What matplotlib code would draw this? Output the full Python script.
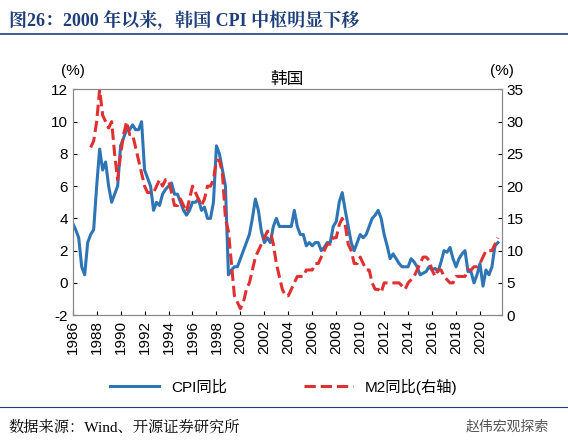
import numpy as np
import matplotlib
matplotlib.use("Agg")
import matplotlib.pyplot as plt
from matplotlib.lines import Line2D

plt.rcParams['font.family'] = ['Liberation Sans', 'Noto Sans CJK SC', 'DejaVu Sans']
plt.rcParams['axes.unicode_minus'] = False
SERIF = ['Liberation Serif', 'Noto Serif CJK SC', 'Noto Sans CJK SC']

# 韩国 CPI 同比 (%), 季度, 1986Q1 起
cpi = [3.7, 3.3, 2.8, 1.0, 0.5, 2.5, 3.0, 3.3, 6.0, 8.3, 7.0, 7.5,
       6.0, 5.0, 5.5, 6.0, 8.5, 9.0, 9.5, 9.5, 9.8, 9.5, 9.5, 10.0,
       7.0, 6.5, 6.0, 4.5, 5.0, 4.8, 5.5, 5.8, 6.0, 6.2, 5.5, 5.5,
       5.0, 4.5, 4.2, 4.5, 5.0, 5.0, 5.2, 4.5, 4.7, 4.0, 4.0, 5.0,
       8.5, 8.0, 7.0, 6.0, 0.5, 0.8, 1.0, 1.0, 1.5, 2.0, 2.5, 3.0,
       4.0, 5.2, 4.5, 3.2, 2.5, 2.8, 2.5, 3.5, 4.0, 3.5, 3.5, 3.5,
       3.5, 3.5, 4.5, 3.5, 3.0, 3.0, 2.3, 2.5, 2.3, 2.5, 2.5, 2.0,
       2.2, 2.5, 2.5, 3.5, 3.8, 5.0, 5.6, 4.5, 3.5, 2.5, 2.0, 2.5,
       3.0, 2.8, 3.0, 3.5, 4.0, 4.2, 4.5, 4.0, 3.0, 2.3, 1.5, 1.8,
       1.5, 1.2, 1.0, 1.0, 1.0, 1.5, 1.3, 1.0, 0.5, 0.6, 0.7, 1.0,
       0.8, 0.9, 0.7, 1.3, 2.0, 1.9, 2.2, 1.5, 1.0, 1.5, 1.8, 2.0,
       0.7, 0.7, 0.0, 0.5, 1.2, -0.2, 0.8, 0.5, 1.0, 2.3, 2.5]
cpi_t = 1986 + np.arange(len(cpi)) * 0.25

# 韩国 M2 同比 (%), 季度, 1987Q3 起
m2 = [26, 27, 30, 35, 31, 30, 29, 30, 25, 21, 25, 28, 30, 28,
      28, 26, 24, 22, 20, 19, 19, 19, 20, 21, 20, 21, 21, 19, 17, 17,
      18, 17, 16, 18, 20, 19, 18, 17, 18, 20, 20, 21, 24, 24, 22, 15,
      13, 8, 3, 2, 1, 2, 4, 5, 7, 9, 10, 11, 12, 13, 13, 11,
      8, 6, 4, 3, 3, 4, 5, 6, 6, 6, 7, 7, 7, 8, 8, 9,
      10, 11, 11, 12, 12, 14, 15, 14, 11, 10, 8, 8, 9, 8, 7, 7,
      5, 4, 4, 3.5, 5, 5, 5, 5, 5, 5, 4.5, 4, 5, 5.5, 6, 7,
      8, 9, 9, 8.5, 7, 6, 7, 7, 6, 5.5, 5, 5, 6, 6, 6, 6,
      7, 7, 7.5, 7.5, 8, 9, 10, 10, 10, 11, 12]
m2_t = 1987.5 + np.arange(len(m2)) * 0.25

years = list(range(1986, 2021, 2))

fig = plt.figure(figsize=(5.68, 4.47), dpi=100)
fig.text(0.015, 0.955, "图26：2000 年以来，韩国 CPI 中枢明显下移", fontsize=13,
         fontweight="bold", color="#1f3f7a", va="center", family=SERIF)
fig.add_artist(Line2D([0.0, 1.0], [0.925, 0.925], color="#1f3f7a", lw=1.2))

ax = fig.add_axes([0.128, 0.295, 0.755, 0.505])
ax2 = ax.twinx()
ax.plot(cpi_t, cpi, color="#2e75b6", lw=2.2, label="CPI同比")
ax2.plot(m2_t, m2, color="#e03030", lw=2.2, ls="--", label="M2同比(右轴)")
ax.set_xlim(1986, 2021.8)
ax.set_ylim(-2, 12)
ax.set_yticks(range(-2, 13, 2))
ax2.set_ylim(0, 35)
ax2.set_yticks(range(0, 36, 5))
ax.set_xticks(years)
ax.set_xticklabels([str(y) for y in years], rotation=90)
for a in (ax, ax2):
    a.tick_params(labelsize=11, direction="in", length=3)
    for s in a.spines.values():
        s.set_color("#888888")
ax.set_title("韩国", fontsize=12, pad=4)
ax.text(0.0, 1.065, "(%)", transform=ax.transAxes, fontsize=11, ha="center")
ax2.text(1.0, 1.065, "(%)", transform=ax.transAxes, fontsize=11, ha="center")

h1, l1 = ax.get_legend_handles_labels()
h2, l2 = ax2.get_legend_handles_labels()
fig.legend(h1 + h2, l1 + l2, loc="center", bbox_to_anchor=(0.5, 0.135), ncol=2,
           frameon=False, fontsize=11, handlelength=3.2, columnspacing=5)

fig.add_artist(Line2D([0.0, 1.0], [0.09, 0.09], color="#1f3f7a", lw=0.8))
fig.text(0.015, 0.045, "数据来源：Wind、开源证券研究所", fontsize=11, va="center",
         family=SERIF)
fig.text(0.82, 0.045, "赵伟宏观探索", fontsize=10, va="center", color="#555555")

fig.savefig("out.png", dpi=100)
